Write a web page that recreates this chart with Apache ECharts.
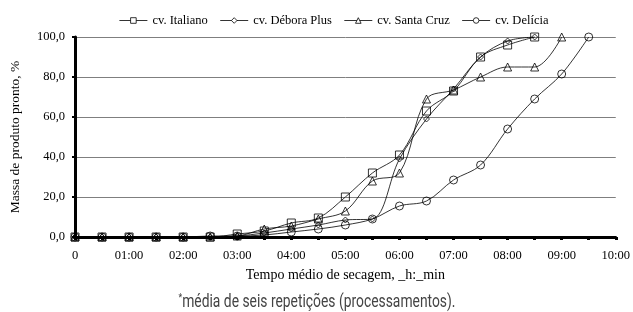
<!DOCTYPE html>
<html>
<head>
<meta charset="utf-8">
<script src="https://cdn.jsdelivr.net/npm/echarts@6/dist/echarts.min.js"></script>
<style>
  html, body { margin: 0; padding: 0; background: #fff; }
  #chart { width: 633px; height: 312px; }
</style>
</head>
<body>
<div id="chart"></div>
<script>
// tempo em horas, de 30 em 30 min
const times = [0, 0.5, 1, 1.5, 2, 2.5, 3, 3.5, 4, 4.5, 5, 5.5, 6, 6.5, 7, 7.5, 8, 8.5, 9, 9.5]

const italiano = [0, 0, 0, 0, 0, 0, 1.5, 3, 7, 9.5, 20, 32, 41, 63, 73, 90, 96, 100]
const debora = [0, 0, 0, 0, 0, 0, 0.5, 2, 4, 6, 8.5, 9, 39, 59, 74, 90, 98, 100]
const santaCruz = [0, 0, 0, 0, 0, 0, 0.5, 4, 5.5, 9, 13, 28, 32, 69, 73.5, 80, 85, 85, 100]
const delicia = [0, 0, 0, 0, 0, 0.5, 0.5, 1, 2.5, 4, 6, 9, 15.5, 18, 28.5, 36, 54, 69, 81.5, 100]

const seriesNames = ['cv. Italiano', 'cv. Débora Plus', 'cv. Santa Cruz', 'cv. Delícia']

const serif = "'Liberation Serif', 'DejaVu Serif', serif"
const narrow = "'Liberation Sans Narrow', 'Roboto', sans-serif"

function pairs (vals) {
  return vals.map((v, i) => [times[i], v])
}

function mkSeries (name, vals, symbol, size) {
  return {
    name: name,
    type: 'line',
    smooth: 0.35,
    data: pairs(vals),
    symbol: symbol,
    symbolSize: size,
    lineStyle: { color: '#000', width: 0.8 },
    itemStyle: { color: 'rgba(255,255,255,0)', borderColor: '#000', borderWidth: 0.8 }
  }
}

const chart = echarts.init(document.getElementById('chart'))
chart.setOption({
  animation: false,
  backgroundColor: '#fff',
  textStyle: { fontFamily: serif, color: '#000' },
  legend: {
    top: 9,
    left: 114,
    itemWidth: 28,
    itemHeight: 7,
    itemGap: 12,
    lineStyle: { width: 0.8 },
    itemStyle: { color: '#fff', borderColor: '#000', borderWidth: 0.8 },
    textStyle: { fontFamily: serif, fontSize: 12.5, color: '#000' },
    data: seriesNames
  },
  grid: { left: 73, right: 16, top: 37, bottom: 75 },
  xAxis: {
    type: 'value',
    min: 0,
    max: 10,
    interval: 0.5,
    name: 'Tempo médio de secagem, _h:_min',
    nameLocation: 'middle',
    nameGap: 31,
    nameTextStyle: { fontFamily: serif, fontSize: 14, color: '#000' },
    axisLine: { lineStyle: { color: '#000', width: 3 } },
    axisTick: { length: 3, lineStyle: { color: '#000', width: 3 } },
    splitLine: { show: false },
    axisLabel: {
      fontFamily: serif,
      fontSize: 12.5,
      color: '#000',
      margin: 12,
      formatter: function (v) {
        if (v % 1 !== 0) return ''
        if (v === 0) return '0'
        return (v < 10 ? '0' : '') + v + ':00'
      }
    }
  },
  yAxis: {
    type: 'value',
    min: 0,
    max: 100,
    interval: 20,
    name: 'Massa de produto pronto, %',
    nameLocation: 'middle',
    nameGap: 53,
    nameTextStyle: { fontFamily: serif, fontSize: 13.5, color: '#000' },
    axisLine: { show: true, lineStyle: { color: '#000', width: 3 } },
    axisTick: { show: true, length: 3, lineStyle: { color: '#000', width: 2 } },
    splitLine: { lineStyle: { color: '#7f7f7f', width: 1 } },
    axisLabel: {
      fontFamily: serif,
      fontSize: 12.5,
      color: '#000',
      margin: 10,
      formatter: function (v) { return v.toFixed(1).replace('.', ',') }
    }
  },
  graphic: [{
    type: 'text',
    x: 317,
    y: 302,
    scaleX: 0.77,
    style: {
      text: '{s|*}{t|média de seis repetições (processamentos).}',
      align: 'center',
      verticalAlign: 'middle',
      rich: {
        s: { fontSize: 11, verticalAlign: 'top', fill: '#444', fontFamily: narrow },
        t: { fontSize: 18, fill: '#444', fontFamily: narrow }
      }
    }
  }],
  series: [
    mkSeries(seriesNames[0], italiano, 'rect', 8),
    mkSeries(seriesNames[1], debora, 'diamond', 6),
    mkSeries(seriesNames[2], santaCruz, 'triangle', 8),
    mkSeries(seriesNames[3], delicia, 'circle', 8)
  ]
})
</script>
</body>
</html>
